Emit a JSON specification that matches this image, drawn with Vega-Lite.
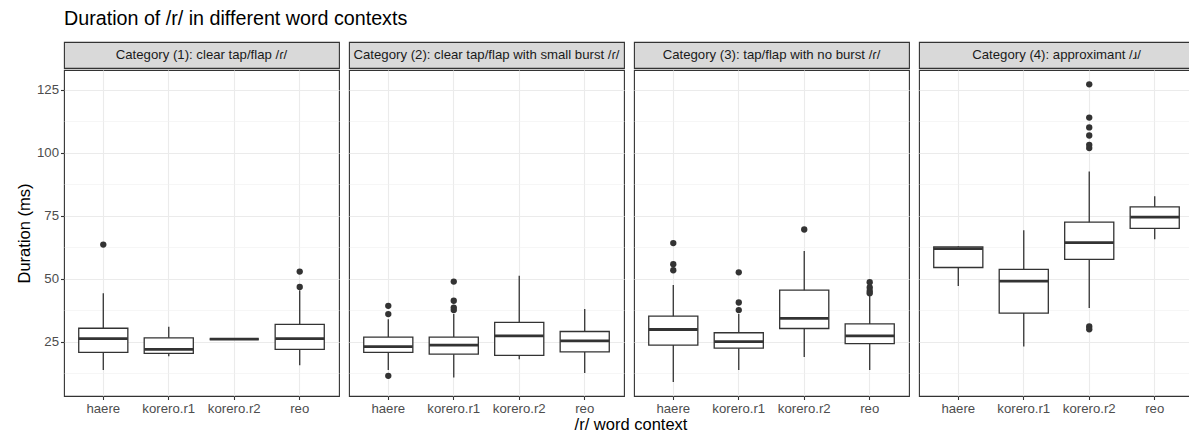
{
  "$schema": "https://vega.github.io/schema/vega-lite/v6.json",
  "padding": {"left": 15, "top": 8, "right": 0, "bottom": 0},
  "background": "white",
  "title": {"text": "Duration of /r/ in different word contexts", "anchor": "start", "frame": "group", "fontSize": 19.7, "fontWeight": "normal", "color": "#000000", "offset": 13, "font": "Liberation Sans"},
  "config": {
    "font": "Liberation Sans",
    "view": {"stroke": "#333333", "strokeWidth": 1.1},
    "axis": {"labelFontSize": 13.2, "labelColor": "#4D4D4D", "tickColor": "#333333", "tickSize": 3.5, "tickWidth": 1.1, "domain": false},
    "axisX": {"labelAngle": 0, "labelPadding": 2.5, "grid": true, "gridColor": "#EBEBEB", "gridWidth": 1.1},
    "axisY": {"labelPadding": 2, "grid": true},
    "concat": {"spacing": 0}
  },
  "datasets": {
    "cats": [
      {"cat": "Category (1): clear tap/flap /ɾ/"},
      {"cat": "Category (2): clear tap/flap with small burst /ɾ/"},
      {"cat": "Category (3): tap/flap with no burst /ɾ/"},
      {"cat": "Category (4): approximant /ɹ/"}
    ],
    "d": [
      {"cat": "Category (1): clear tap/flap /ɾ/", "word": "haere", "lo": 13.8, "q1": 20.8, "med": 26.3, "q3": 30.4, "hi": 44.3},
      {"cat": "Category (1): clear tap/flap /ɾ/", "word": "korero.r1", "lo": 19.3, "q1": 20.4, "med": 22.0, "q3": 26.6, "hi": 31.0},
      {"cat": "Category (1): clear tap/flap /ɾ/", "word": "korero.r2", "lo": 26.1, "q1": 26.1, "med": 26.1, "q3": 26.1, "hi": 26.1},
      {"cat": "Category (1): clear tap/flap /ɾ/", "word": "reo", "lo": 15.7, "q1": 22.0, "med": 26.3, "q3": 31.9, "hi": 45.5},
      {"cat": "Category (1): clear tap/flap /ɾ/", "word": "haere", "v": 63.6},
      {"cat": "Category (1): clear tap/flap /ɾ/", "word": "reo", "v": 52.9},
      {"cat": "Category (1): clear tap/flap /ɾ/", "word": "reo", "v": 46.8},

      {"cat": "Category (2): clear tap/flap with small burst /ɾ/", "word": "haere", "lo": 13.8, "q1": 20.8, "med": 23.1, "q3": 26.9, "hi": 34.0},
      {"cat": "Category (2): clear tap/flap with small burst /ɾ/", "word": "korero.r1", "lo": 10.8, "q1": 20.1, "med": 23.7, "q3": 26.9, "hi": 36.0},
      {"cat": "Category (2): clear tap/flap with small burst /ɾ/", "word": "korero.r2", "lo": 18.1, "q1": 19.6, "med": 27.4, "q3": 32.7, "hi": 51.2},
      {"cat": "Category (2): clear tap/flap with small burst /ɾ/", "word": "reo", "lo": 12.6, "q1": 21.0, "med": 25.4, "q3": 29.1, "hi": 38.0},
      {"cat": "Category (2): clear tap/flap with small burst /ɾ/", "word": "haere", "v": 39.3},
      {"cat": "Category (2): clear tap/flap with small burst /ɾ/", "word": "haere", "v": 36.0},
      {"cat": "Category (2): clear tap/flap with small burst /ɾ/", "word": "haere", "v": 11.5},
      {"cat": "Category (2): clear tap/flap with small burst /ɾ/", "word": "korero.r1", "v": 48.9},
      {"cat": "Category (2): clear tap/flap with small burst /ɾ/", "word": "korero.r1", "v": 41.3},
      {"cat": "Category (2): clear tap/flap with small burst /ɾ/", "word": "korero.r1", "v": 38.6},
      {"cat": "Category (2): clear tap/flap with small burst /ɾ/", "word": "korero.r1", "v": 37.6},

      {"cat": "Category (3): tap/flap with no burst /ɾ/", "word": "haere", "lo": 9.1, "q1": 23.7, "med": 29.9, "q3": 35.2, "hi": 47.6},
      {"cat": "Category (3): tap/flap with no burst /ɾ/", "word": "korero.r1", "lo": 13.8, "q1": 22.5, "med": 25.1, "q3": 28.6, "hi": 36.0},
      {"cat": "Category (3): tap/flap with no burst /ɾ/", "word": "korero.r2", "lo": 19.0, "q1": 30.3, "med": 34.3, "q3": 45.5, "hi": 61.1},
      {"cat": "Category (3): tap/flap with no burst /ɾ/", "word": "reo", "lo": 13.8, "q1": 24.3, "med": 27.4, "q3": 32.1, "hi": 43.9},
      {"cat": "Category (3): tap/flap with no burst /ɾ/", "word": "haere", "v": 64.2},
      {"cat": "Category (3): tap/flap with no burst /ɾ/", "word": "haere", "v": 55.8},
      {"cat": "Category (3): tap/flap with no burst /ɾ/", "word": "haere", "v": 53.4},
      {"cat": "Category (3): tap/flap with no burst /ɾ/", "word": "korero.r1", "v": 52.6},
      {"cat": "Category (3): tap/flap with no burst /ɾ/", "word": "korero.r1", "v": 40.6},
      {"cat": "Category (3): tap/flap with no burst /ɾ/", "word": "korero.r1", "v": 37.6},
      {"cat": "Category (3): tap/flap with no burst /ɾ/", "word": "korero.r2", "v": 69.6},
      {"cat": "Category (3): tap/flap with no burst /ɾ/", "word": "reo", "v": 48.7},
      {"cat": "Category (3): tap/flap with no burst /ɾ/", "word": "reo", "v": 46.6},
      {"cat": "Category (3): tap/flap with no burst /ɾ/", "word": "reo", "v": 45.2},
      {"cat": "Category (3): tap/flap with no burst /ɾ/", "word": "reo", "v": 44.3},

      {"cat": "Category (4): approximant /ɹ/", "word": "haere", "lo": 47.2, "q1": 54.5, "med": 62.0, "q3": 62.7, "hi": 63.0},
      {"cat": "Category (4): approximant /ɹ/", "word": "korero.r1", "lo": 23.1, "q1": 36.4, "med": 49.1, "q3": 53.8, "hi": 69.3},
      {"cat": "Category (4): approximant /ɹ/", "word": "korero.r2", "lo": 38.4, "q1": 57.7, "med": 64.4, "q3": 72.5, "hi": 92.6},
      {"cat": "Category (4): approximant /ɹ/", "word": "reo", "lo": 65.7, "q1": 70.0, "med": 74.5, "q3": 78.6, "hi": 82.8},
      {"cat": "Category (4): approximant /ɹ/", "word": "korero.r2", "v": 127.2},
      {"cat": "Category (4): approximant /ɹ/", "word": "korero.r2", "v": 114.0},
      {"cat": "Category (4): approximant /ɹ/", "word": "korero.r2", "v": 110.1},
      {"cat": "Category (4): approximant /ɹ/", "word": "korero.r2", "v": 106.9},
      {"cat": "Category (4): approximant /ɹ/", "word": "korero.r2", "v": 103.2},
      {"cat": "Category (4): approximant /ɹ/", "word": "korero.r2", "v": 101.9},
      {"cat": "Category (4): approximant /ɹ/", "word": "korero.r2", "v": 31.1},
      {"cat": "Category (4): approximant /ɹ/", "word": "korero.r2", "v": 30.0}
    ],
    "xt": [{"t": "/r/ word context"}]
  },
  "spacing": 0,
  "vconcat": [
    {
      "spacing": 8,
      "hconcat": [
        {
          "spacing": 0,
          "vconcat": [
            {
              "data": {"name": "cats"},
              "transform": [{"filter": {"field": "cat", "equal": "Category (1): clear tap/flap /ɾ/"}}],
              "width": 275, "height": 26,
              "view": {"fill": "#D9D9D9", "stroke": "#333333", "strokeWidth": 1.1},
              "mark": {"type": "text", "fontSize": 13.2, "color": "#1A1A1A", "baseline": "middle", "align": "center"},
              "encoding": {"text": {"field": "cat", "type": "nominal"}}
            },
            {
              "data": {"name": "d"},
              "transform": [{"filter": {"field": "cat", "equal": "Category (1): clear tap/flap /ɾ/"}}],
              "width": 275, "height": 326,
              "view": {"fill": "white", "stroke": "#333333", "strokeWidth": 1.1},
              "resolve": {"axis": {"y": "independent"}},
              "encoding": {
                "x": {"field": "word", "type": "nominal", "scale": {"paddingInner": 0.25, "paddingOuter": 0.225}, "axis": {"title": null, "grid": true}}
              },
              "layer": [
                {
                  "transform": [{"filter": "isValid(datum.med)"}],
                  "mark": {"type": "rule", "color": "#333333", "strokeWidth": 1.3},
                  "encoding": {
                    "y": {
                      "field": "lo", "type": "quantitative",
                      "scale": {"domain": [3.5, 132.9], "nice": false, "zero": false},
                      "axis": {"orient": "left", "title": null, "labels": false, "ticks": false, "minExtent": 0, "maxExtent": 0, "values": [12.5, 37.5, 62.5, 87.5, 112.5], "grid": true, "gridColor": "#F0F0F0", "gridWidth": 0.6}
                    },
                    "y2": {"field": "hi"}
                  }
                },
                {
                  "transform": [{"filter": "isValid(datum.med)"}],
                  "mark": {"type": "bar", "fill": "white", "stroke": "#333333", "strokeWidth": 1.3},
                  "encoding": {
                    "y": {
                      "field": "q1", "type": "quantitative",
                      "scale": {"domain": [3.5, 132.9], "nice": false, "zero": false},
                      "axis": {"orient": "left", "title": "Duration (ms)", "titleFontSize": 16.5, "titleFontWeight": "normal", "titleColor": "#000000", "titlePadding": 4, "values": [25, 50, 75, 100, 125], "grid": true, "gridColor": "#EBEBEB", "gridWidth": 1.1}
                    },
                    "y2": {"field": "q3"}
                  }
                },
                {
                  "transform": [{"filter": "isValid(datum.med)"}],
                  "mark": {"type": "tick", "color": "#333333", "thickness": 2.8, "size": 49, "opacity": 1},
                  "encoding": {"y": {"field": "med", "type": "quantitative", "axis": null}}
                },
                {
                  "transform": [{"filter": "isValid(datum.v)"}],
                  "mark": {"type": "point", "filled": true, "color": "#333333", "size": 40, "opacity": 1},
                  "encoding": {"y": {"field": "v", "type": "quantitative", "axis": null}}
                }
              ]
            }
          ]
        },
        {
          "spacing": 0,
          "vconcat": [
            {
              "data": {"name": "cats"},
              "transform": [{"filter": {"field": "cat", "equal": "Category (2): clear tap/flap with small burst /ɾ/"}}],
              "width": 275, "height": 26,
              "view": {"fill": "#D9D9D9", "stroke": "#333333", "strokeWidth": 1.1},
              "mark": {"type": "text", "fontSize": 13.2, "color": "#1A1A1A", "baseline": "middle", "align": "center"},
              "encoding": {"text": {"field": "cat", "type": "nominal"}}
            },
            {
              "data": {"name": "d"},
              "transform": [{"filter": {"field": "cat", "equal": "Category (2): clear tap/flap with small burst /ɾ/"}}],
              "width": 275, "height": 326,
              "view": {"fill": "white", "stroke": "#333333", "strokeWidth": 1.1},
              "resolve": {"axis": {"y": "independent"}},
              "encoding": {
                "x": {"field": "word", "type": "nominal", "scale": {"paddingInner": 0.25, "paddingOuter": 0.225}, "axis": {"title": null, "grid": true}}
              },
              "layer": [
                {
                  "transform": [{"filter": "isValid(datum.med)"}],
                  "mark": {"type": "rule", "color": "#333333", "strokeWidth": 1.3},
                  "encoding": {
                    "y": {
                      "field": "lo", "type": "quantitative",
                      "scale": {"domain": [3.5, 132.9], "nice": false, "zero": false},
                      "axis": {"orient": "left", "title": null, "labels": false, "ticks": false, "minExtent": 0, "maxExtent": 0, "values": [12.5, 37.5, 62.5, 87.5, 112.5], "grid": true, "gridColor": "#F0F0F0", "gridWidth": 0.6}
                    },
                    "y2": {"field": "hi"}
                  }
                },
                {
                  "transform": [{"filter": "isValid(datum.med)"}],
                  "mark": {"type": "bar", "fill": "white", "stroke": "#333333", "strokeWidth": 1.3},
                  "encoding": {
                    "y": {
                      "field": "q1", "type": "quantitative",
                      "scale": {"domain": [3.5, 132.9], "nice": false, "zero": false},
                      "axis": {"orient": "left", "title": null, "labels": false, "ticks": false, "minExtent": 0, "maxExtent": 0, "values": [25, 50, 75, 100, 125], "grid": true, "gridColor": "#EBEBEB", "gridWidth": 1.1}
                    },
                    "y2": {"field": "q3"}
                  }
                },
                {
                  "transform": [{"filter": "isValid(datum.med)"}],
                  "mark": {"type": "tick", "color": "#333333", "thickness": 2.8, "size": 49, "opacity": 1},
                  "encoding": {"y": {"field": "med", "type": "quantitative", "axis": null}}
                },
                {
                  "transform": [{"filter": "isValid(datum.v)"}],
                  "mark": {"type": "point", "filled": true, "color": "#333333", "size": 40, "opacity": 1},
                  "encoding": {"y": {"field": "v", "type": "quantitative", "axis": null}}
                }
              ]
            }
          ]
        },
        {
          "spacing": 0,
          "vconcat": [
            {
              "data": {"name": "cats"},
              "transform": [{"filter": {"field": "cat", "equal": "Category (3): tap/flap with no burst /ɾ/"}}],
              "width": 275, "height": 26,
              "view": {"fill": "#D9D9D9", "stroke": "#333333", "strokeWidth": 1.1},
              "mark": {"type": "text", "fontSize": 13.2, "color": "#1A1A1A", "baseline": "middle", "align": "center"},
              "encoding": {"text": {"field": "cat", "type": "nominal"}}
            },
            {
              "data": {"name": "d"},
              "transform": [{"filter": {"field": "cat", "equal": "Category (3): tap/flap with no burst /ɾ/"}}],
              "width": 275, "height": 326,
              "view": {"fill": "white", "stroke": "#333333", "strokeWidth": 1.1},
              "resolve": {"axis": {"y": "independent"}},
              "encoding": {
                "x": {"field": "word", "type": "nominal", "scale": {"paddingInner": 0.25, "paddingOuter": 0.225}, "axis": {"title": null, "grid": true}}
              },
              "layer": [
                {
                  "transform": [{"filter": "isValid(datum.med)"}],
                  "mark": {"type": "rule", "color": "#333333", "strokeWidth": 1.3},
                  "encoding": {
                    "y": {
                      "field": "lo", "type": "quantitative",
                      "scale": {"domain": [3.5, 132.9], "nice": false, "zero": false},
                      "axis": {"orient": "left", "title": null, "labels": false, "ticks": false, "minExtent": 0, "maxExtent": 0, "values": [12.5, 37.5, 62.5, 87.5, 112.5], "grid": true, "gridColor": "#F0F0F0", "gridWidth": 0.6}
                    },
                    "y2": {"field": "hi"}
                  }
                },
                {
                  "transform": [{"filter": "isValid(datum.med)"}],
                  "mark": {"type": "bar", "fill": "white", "stroke": "#333333", "strokeWidth": 1.3},
                  "encoding": {
                    "y": {
                      "field": "q1", "type": "quantitative",
                      "scale": {"domain": [3.5, 132.9], "nice": false, "zero": false},
                      "axis": {"orient": "left", "title": null, "labels": false, "ticks": false, "minExtent": 0, "maxExtent": 0, "values": [25, 50, 75, 100, 125], "grid": true, "gridColor": "#EBEBEB", "gridWidth": 1.1}
                    },
                    "y2": {"field": "q3"}
                  }
                },
                {
                  "transform": [{"filter": "isValid(datum.med)"}],
                  "mark": {"type": "tick", "color": "#333333", "thickness": 2.8, "size": 49, "opacity": 1},
                  "encoding": {"y": {"field": "med", "type": "quantitative", "axis": null}}
                },
                {
                  "transform": [{"filter": "isValid(datum.v)"}],
                  "mark": {"type": "point", "filled": true, "color": "#333333", "size": 40, "opacity": 1},
                  "encoding": {"y": {"field": "v", "type": "quantitative", "axis": null}}
                }
              ]
            }
          ]
        },
        {
          "spacing": 0,
          "vconcat": [
            {
              "data": {"name": "cats"},
              "transform": [{"filter": {"field": "cat", "equal": "Category (4): approximant /ɹ/"}}],
              "width": 275, "height": 26,
              "view": {"fill": "#D9D9D9", "stroke": "#333333", "strokeWidth": 1.1},
              "mark": {"type": "text", "fontSize": 13.2, "color": "#1A1A1A", "baseline": "middle", "align": "center"},
              "encoding": {"text": {"field": "cat", "type": "nominal"}}
            },
            {
              "data": {"name": "d"},
              "transform": [{"filter": {"field": "cat", "equal": "Category (4): approximant /ɹ/"}}],
              "width": 275, "height": 326,
              "view": {"fill": "white", "stroke": "#333333", "strokeWidth": 1.1},
              "resolve": {"axis": {"y": "independent"}},
              "encoding": {
                "x": {"field": "word", "type": "nominal", "scale": {"paddingInner": 0.25, "paddingOuter": 0.225}, "axis": {"title": null, "grid": true}}
              },
              "layer": [
                {
                  "transform": [{"filter": "isValid(datum.med)"}],
                  "mark": {"type": "rule", "color": "#333333", "strokeWidth": 1.3},
                  "encoding": {
                    "y": {
                      "field": "lo", "type": "quantitative",
                      "scale": {"domain": [3.5, 132.9], "nice": false, "zero": false},
                      "axis": {"orient": "left", "title": null, "labels": false, "ticks": false, "minExtent": 0, "maxExtent": 0, "values": [12.5, 37.5, 62.5, 87.5, 112.5], "grid": true, "gridColor": "#F0F0F0", "gridWidth": 0.6}
                    },
                    "y2": {"field": "hi"}
                  }
                },
                {
                  "transform": [{"filter": "isValid(datum.med)"}],
                  "mark": {"type": "bar", "fill": "white", "stroke": "#333333", "strokeWidth": 1.3},
                  "encoding": {
                    "y": {
                      "field": "q1", "type": "quantitative",
                      "scale": {"domain": [3.5, 132.9], "nice": false, "zero": false},
                      "axis": {"orient": "left", "title": null, "labels": false, "ticks": false, "minExtent": 0, "maxExtent": 0, "values": [25, 50, 75, 100, 125], "grid": true, "gridColor": "#EBEBEB", "gridWidth": 1.1}
                    },
                    "y2": {"field": "q3"}
                  }
                },
                {
                  "transform": [{"filter": "isValid(datum.med)"}],
                  "mark": {"type": "tick", "color": "#333333", "thickness": 2.8, "size": 49, "opacity": 1},
                  "encoding": {"y": {"field": "med", "type": "quantitative", "axis": null}}
                },
                {
                  "transform": [{"filter": "isValid(datum.v)"}],
                  "mark": {"type": "point", "filled": true, "color": "#333333", "size": 40, "opacity": 1},
                  "encoding": {"y": {"field": "v", "type": "quantitative", "axis": null}}
                }
              ]
            }
          ]
        }
      ]
    },
    {
      "data": {"name": "xt"},
      "width": 1124,
      "height": 16,
      "view": {"stroke": null},
      "mark": {"type": "text", "fontSize": 16.5, "color": "#000000", "baseline": "middle", "align": "center", "dx": 5, "dy": 2},
      "encoding": {"text": {"field": "t", "type": "nominal"}}
    }
  ]
}
